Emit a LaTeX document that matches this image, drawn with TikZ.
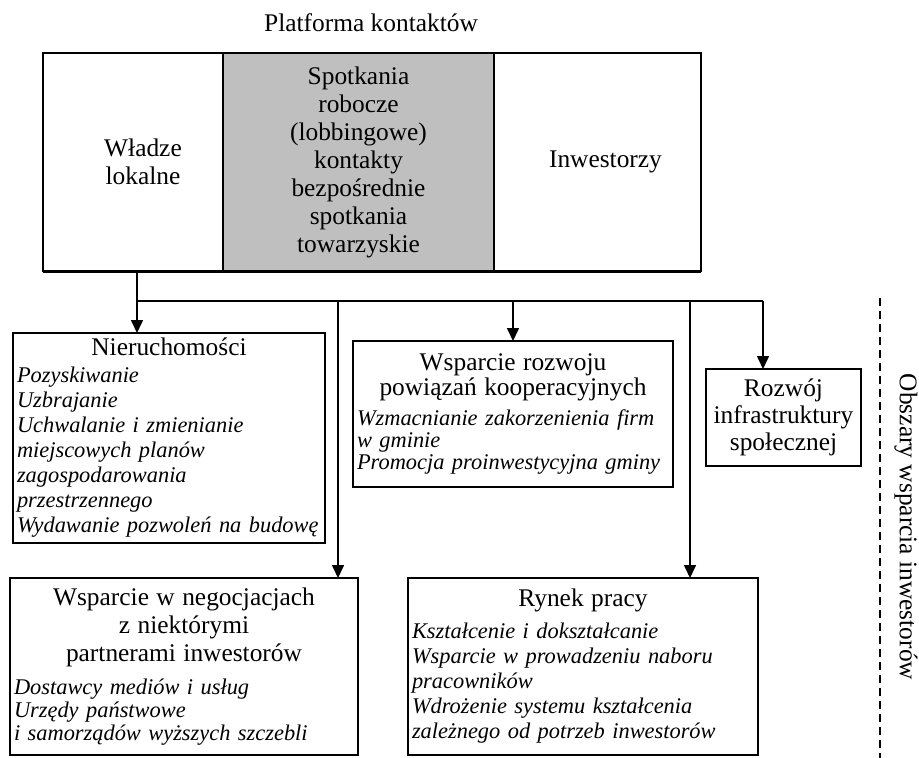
\documentclass[tikz,border=0pt]{standalone}
\usepackage{fontspec}
\setmainfont{Liberation Serif}
\usetikzlibrary{arrows.meta,positioning}

\newcommand{\areahead}[1]{\makebox[\hsize]{\upshape\fontsize{25.4}{27}\selectfont #1}}

\begin{document}
\begin{tikzpicture}[
    x=1pt, y=-1pt,
    every node/.style={inner sep=0pt},
    frame/.style={
        draw,
        line width=1.5pt,
        outer sep=0pt
    },
    cell text/.style={
        align=center,
        font=\fontsize{25.4}{28}\selectfont
    },
    platform part/.style={
        frame,
        cell text,
        minimum height=218pt
    },
    area/.style={
        frame,
        anchor=north west,
        inner xsep=4pt,
        align=left,
        font=\fontsize{22.4}{25}\selectfont
    },
    link/.style={
        line width=1.6pt
    },
    feed/.style={
        link,
        -{Triangle[width=12pt,length=13pt]}
    },
    ]
    \useasboundingbox (0,0) rectangle (919,758);

    % platforma kontaktow
    \node[cell text] (title) at (371,23) {Platforma kontaktów};
    \node[platform part, anchor=north west, minimum width=180pt,
        label={[cell text, xshift=10pt]center:Władze\\lokalne}] (local) at (43,53) {};
    \node[platform part, minimum width=271pt, fill=black!25, right=0pt of local] (meetings)
        {Spotkania\\robocze\\(lobbingowe)\\kontakty\\bezpośrednie\\spotkania\\towarzyskie};
    \node[platform part, minimum width=207pt, right=0pt of meetings,
        label={[cell text, xshift=8pt]center:Inwestorzy}] (investors) {};
    \draw[line width=3pt] (local.south west) -- (investors.south east);

    % obszary wsparcia
    \node[area, minimum height=210pt, text width=304pt] (realty) at (13,333)
        {\areahead{Nieruchomości}\\[2pt] \itshape
         Pozyskiwanie\\
         Uzbrajanie\\
         Uchwalanie i zmienianie\\
         miejscowych planów\\
         zagospodarowania\\
         przestrzennego\\
         Wydawanie pozwoleń na budowę};
    \node[area, minimum height=146pt, text width=312pt,
        font=\fontsize{22.4}{22}\selectfont] (coop) at (353,341)
        {\areahead{Wsparcie rozwoju}\\
         \areahead{powiązań kooperacyjnych}\\[8pt] \itshape
         Wzmacnianie zakorzenienia firm\\
         w gminie\\
         Promocja proinwestycyjna gminy};
    \node[area, minimum height=97pt, text width=147pt, cell text,
        font=\fontsize{25.4}{27}\selectfont] (social) at (706,369)
        {Rozwój\\infrastruktury\\społecznej};
    \node[area, minimum height=177pt, text width=340pt,
        font=\fontsize{22.4}{23}\selectfont] (negot) at (10,578)
        {\areahead{Wsparcie w negocjacjach}\\[4pt]
         \areahead{z niektórymi}\\[4pt]
         \areahead{partnerami inwestorów}\\[10pt] \itshape
         Dostawcy mediów i usług\\
         Urzędy państwowe\\
         i samorządów wyższych szczebli};
    \node[area, minimum height=177pt, text width=342pt] (labour) at (408,578)
        {\areahead{Rynek pracy}\\[7pt] \itshape
         Kształcenie i dokształcanie\\
         Wsparcie w prowadzeniu naboru\\
         pracowników\\
         Wdrożenie systemu kształcenia\\
         zależnego od potrzeb inwestorów};

    % polaczenia
    \coordinate (bus west) at (137,301);
    \coordinate (bus east) at (763,301);
    \coordinate (tap negot) at (338,301);
    \coordinate (tap labour) at (690,301);
    \draw[link] (bus west |- local.south) -- (bus west) -- (bus east);
    \draw[feed] (bus west) -- (bus west |- realty.north);
    \draw[feed] (tap negot) -- (tap negot |- negot.north);
    \draw[feed] (coop.north |- bus west) -- (coop.north);
    \draw[feed] (tap labour) -- (tap labour |- labour.north);
    \draw[feed] (bus east) -- (bus east |- social.north);

    % granica obszarow
    \coordinate (fence top) at (880,298);
    \coordinate (fence bottom) at (880,758);
    \draw[link, dash pattern=on 8pt off 5pt] (fence top) -- (fence bottom);
    \node[rotate=-90, font=\fontsize{25.4}{28}\selectfont] (areas) at (906,527)
        {Obszary wsparcia inwestorów};
\end{tikzpicture}
\end{document}
